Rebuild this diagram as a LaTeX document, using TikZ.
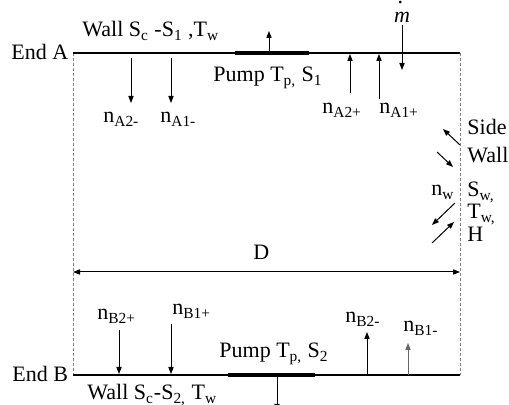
\documentclass[tikz,border=0pt]{standalone}
\usepackage{fontspec}
\setmainfont{Liberation Serif}
\usetikzlibrary{arrows.meta,positioning}
\tikzset{
  lbl/.style={font=\fontsize{11}{13}\selectfont, inner sep=0pt, anchor=base west},
  wallline/.style={draw=black, line width=1pt},
  pumpline/.style={draw=black, line width=1.8pt},
  sideline/.style={draw=gray, line width=0.5pt, dash pattern=on 1.5pt off 1pt},
  flow/.style={-{Triangle[length=3.5pt,width=2.6pt]}, draw=black, line width=0.5pt},
  dimline/.style={{Triangle[length=3.5pt,width=2.6pt]}-{Triangle[length=3.5pt,width=2.6pt]}, draw=black, line width=0.5pt}
}

\begin{document}
\begin{tikzpicture}[x=0.5pt,y=-0.5pt]
  \useasboundingbox (0,0) rectangle (509,405);
  % channel
  \coordinate (A0) at (73,53); \coordinate (A1) at (460,53);
  \coordinate (B0) at (73,375); \coordinate (B1) at (460,375);
  \draw[sideline] (A0) -- (B0); \draw[sideline] (A1) -- (B1);
  \draw[wallline] (A0) -- (A1); \draw[wallline] (B0) -- (B1);
  \coordinate (pA0) at (235,53); \coordinate (pA1) at (309,53);
  \coordinate (pB0) at (228,375); \coordinate (pB1) at (315,375);
  \draw[pumpline] (pA0) -- (pA1); \draw[pumpline] (pB0) -- (pB1);

  % end A labels
  \node[lbl] (endA) at (11,60) {End A};
  \node[lbl] (wallA) at (82,37) {Wall S\textsubscript{c} -S\textsubscript{1} ,T\textsubscript{w}};
  \node[lbl] (pumpA) at (213,82) {Pump T\textsubscript{p,} S\textsubscript{1}};
  \node[lbl] (nA2m) at (103,123) {n\textsubscript{A2-}};
  \node[lbl] (nA1m) at (160,123) {n\textsubscript{A1-}};
  \node[lbl] (nA2p) at (322,114) {n\textsubscript{A2+}};
  \node[lbl] (nA1p) at (379,114) {n\textsubscript{A1+}};
  \node[lbl, anchor=base] (mdot) at (402,23)
    {\makebox[0pt][l]{\hspace{1.8pt}\raisebox{9.5pt}{.}}\textit{m}};

  % end A fluxes
  \coordinate (pAs) at (269,53); \coordinate (pAe) at (269,31);
  \coordinate (a2ms) at (131,58); \coordinate (a2me) at (131,103);
  \coordinate (a1ms) at (171,58); \coordinate (a1me) at (171,103);
  \coordinate (a2ps) at (350,93); \coordinate (a2pe) at (350,54);
  \coordinate (a1ps) at (379,99); \coordinate (a1pe) at (379,54);
  \coordinate (ms) at (402,25); \coordinate (me) at (402,70);
  \draw[flow] (pAs) -- (pAe);
  \draw[flow] (a2ms) -- (a2me); \draw[flow] (a1ms) -- (a1me);
  \draw[flow] (a2ps) -- (a2pe); \draw[flow] (a1ps) -- (a1pe);
  \draw[flow] (ms) -- (me);

  % side wall
  \node[lbl] (side) at (467,135) {Side};
  \node[lbl] (wallS) at (467,163) {Wall};
  \node[lbl] (Sw) at (467,197) {S\textsubscript{w,}};
  \node[lbl] (Tw) at (467,219) {T\textsubscript{w,}};
  \node[lbl] (H) at (467,242) {H};
  \node[lbl] (nw) at (431,196) {n\textsubscript{w}};
  \coordinate (w1s) at (460,145); \coordinate (w1e) at (443,129);
  \coordinate (w2s) at (437,152); \coordinate (w2e) at (453,167);
  \coordinate (w3s) at (455,203); \coordinate (w3e) at (432,225);
  \coordinate (w4s) at (432,243); \coordinate (w4e) at (454,222);
  \draw[flow] (w1s) -- (w1e); \draw[flow] (w2s) -- (w2e);
  \draw[flow] (w3s) -- (w3e); \draw[flow] (w4s) -- (w4e);

  % width
  \node[lbl] (D) at (253,260) {D};
  \coordinate (dL) at (73,272); \coordinate (dR) at (460,272);
  \draw[dimline] (dL) -- (dR);

  % end B labels
  \node[lbl] (endB) at (12,382) {End B};
  \node[lbl] (wallB) at (87,400) {Wall S\textsubscript{c}-S\textsubscript{2,} T\textsubscript{w}};
  \node[lbl] (pumpB) at (219,358) {Pump T\textsubscript{p,} S\textsubscript{2}};
  \node[lbl] (nB2p) at (97,320) {n\textsubscript{B2+}};
  \node[lbl] (nB1p) at (172,315) {n\textsubscript{B1+}};
  \node[lbl] (nB2m) at (345,323) {n\textsubscript{B2-}};
  \node[lbl] (nB1m) at (403,332) {n\textsubscript{B1-}};

  % end B fluxes
  \coordinate (b2ps) at (119,330); \coordinate (b2pe) at (119,374);
  \coordinate (b1ps) at (171,324); \coordinate (b1pe) at (171,374);
  \coordinate (b2ms) at (367,375); \coordinate (b2me) at (367,332);
  \coordinate (b1ms) at (408,375); \coordinate (b1me) at (408,343);
  \draw[flow] (b2ps) -- (b2pe); \draw[flow] (b1ps) -- (b1pe);
  \draw[flow] (b2ms) -- (b2me); \draw[flow, draw=gray!80!black] (b1ms) -- (b1me);
  \coordinate (pBs) at (277,375); \coordinate (pBe) at (277,411);
  \begin{scope}
    \clip (0,0) rectangle (509,405);
    \draw[flow] (pBs) -- (pBe);
  \end{scope}
\end{tikzpicture}
\end{document}
